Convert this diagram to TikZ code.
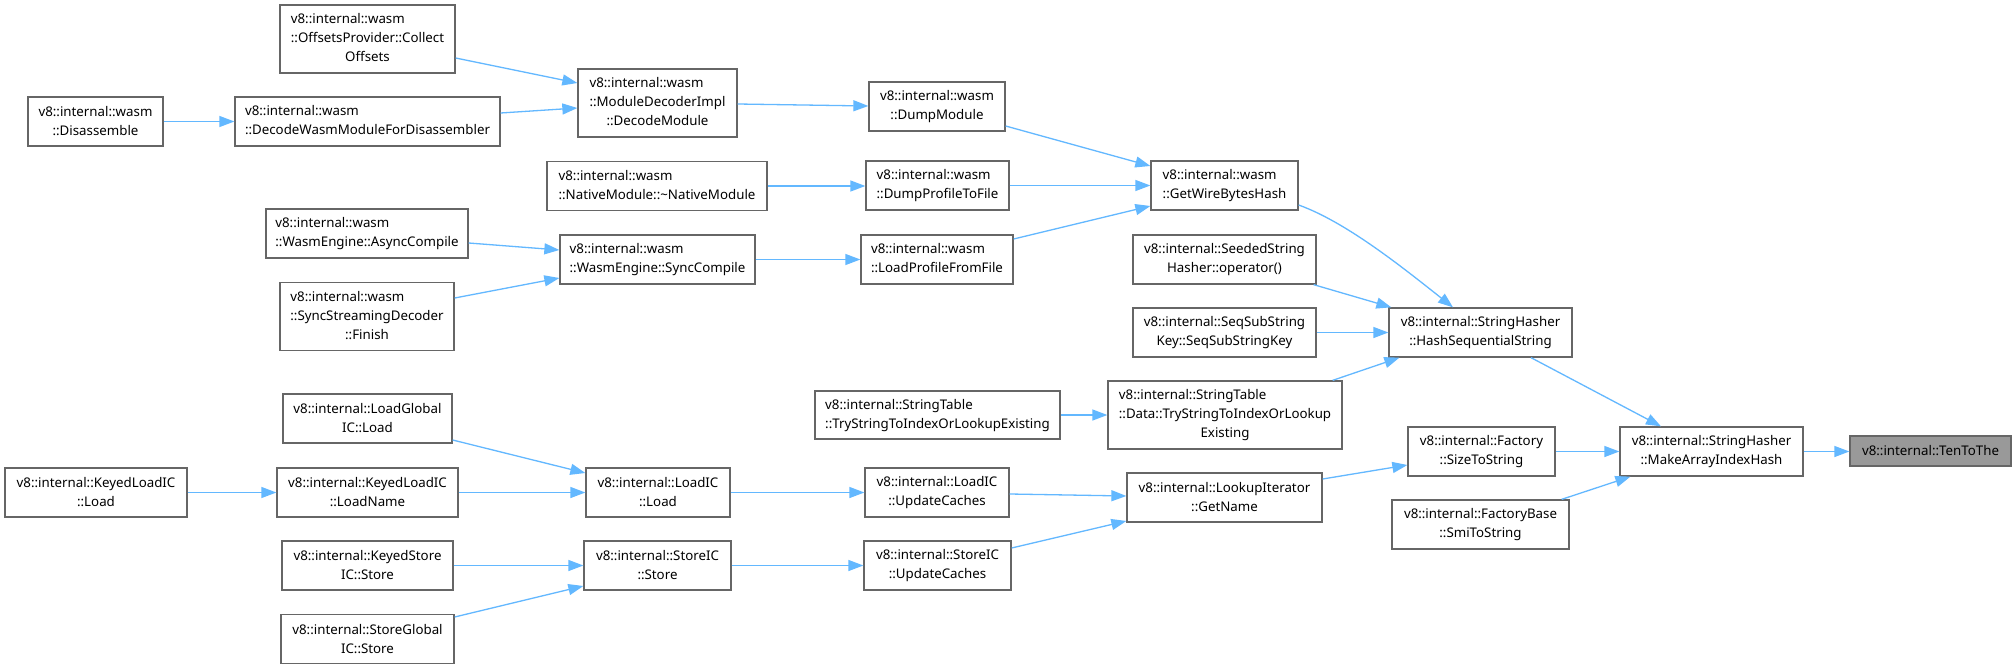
\documentclass[tikz,border=0pt]{standalone}
\usepackage{fontspec}
\setmainfont{Noto Sans}
\usetikzlibrary{arrows.meta,calc}
\definecolor{edgeblue}{HTML}{63B8FF}
\definecolor{boxgray}{HTML}{666666}
\definecolor{hlfill}{HTML}{999999}
\newcommand\lcol[1]{\begin{tabular}{@{}l@{}}#1\end{tabular}}
\newcommand\ccell[1]{\multicolumn{1}{@{}c@{}}{#1}}
\begin{document}
\begin{tikzpicture}[x=1pt,y=-1pt,
 box/.style={draw=boxgray, line width=1.3pt, fill=white, inner sep=0pt, align=center,
   font=\fontsize{13.3}{19}\selectfont},
 hl/.style={box, fill=hlfill},
 wh/.style 2 args={minimum width=#1, minimum height=#2},
 edge/.style={draw=edgeblue, line width=1.3pt, -{Triangle[length=15pt,width=11pt]}}]
\useasboundingbox[fill=white] (0,0) rectangle (2015,669);

% column 1
\node[box, wh={135}{49}] (dis) at (95.5,121.5) {v8::internal::wasm\\::Disassemble};
\node[box, wh={182}{49}] (klic) at (96,492.5) {v8::internal::KeyedLoadIC\\::Load};

% column 2
\node[box, wh={175}{68}] (off) at (367.5,39) {\lcol{v8::internal::wasm\\::OffsetsProvider::Collect\\\ccell{Offsets}}};
\node[box, wh={265}{49}] (dwm) at (367.5,121.5) {\lcol{v8::internal::wasm\\::DecodeWasmModuleForDisassembler}};
\node[box, wh={202}{49}] (ac) at (367,233.5) {\lcol{v8::internal::wasm\\::WasmEngine::AsyncCompile}};
\node[box, wh={174}{68}] (fin) at (367,316.5) {\lcol{v8::internal::wasm\\::SyncStreamingDecoder\\\ccell{::Finish}}};
\node[box, wh={169}{49}] (lgl) at (367.5,418.5) {v8::internal::LoadGlobal\\IC::Load};
\node[box, wh={181}{49}] (kln) at (367.5,492.5) {v8::internal::KeyedLoadIC\\::LoadName};
\node[box, wh={171}{49}] (ksi) at (367.5,565.5) {v8::internal::KeyedStore\\IC::Store};
\node[box, wh={173}{49}] (sgi) at (367.5,639) {v8::internal::StoreGlobal\\IC::Store};

% column 3
\node[box, wh={159}{68}] (dm) at (657.5,103) {\lcol{v8::internal::wasm\\::ModuleDecoderImpl\\\ccell{::DecodeModule}}};
\node[box, wh={220}{49}] (nm) at (657,186) {\lcol{v8::internal::wasm\\::NativeModule::\textasciitilde NativeModule}};
\node[box, wh={195}{49}] (sc) at (657.5,259.5) {\lcol{v8::internal::wasm\\::WasmEngine::SyncCompile}};
\node[box, wh={144}{49}] (lic) at (658,492.5) {v8::internal::LoadIC\\::Load};
\node[box, wh={147}{49}] (sis) at (657.5,565.5) {v8::internal::StoreIC\\::Store};

% column 4
\node[box, wh={136}{49}] (dump) at (937,106.5) {v8::internal::wasm\\::DumpModule};
\node[box, wh={143}{49}] (dpf) at (937.5,185.5) {\lcol{v8::internal::wasm\\::DumpProfileToFile}};
\node[box, wh={152}{49}] (lpf) at (937,259.5) {\lcol{v8::internal::wasm\\::LoadProfileFromFile}};
\node[box, wh={245}{48}] (stt) at (937.5,415) {\lcol{v8::internal::StringTable\\::TryStringToIndexOrLookupExisting}};
\node[box, wh={144}{49}] (licu) at (937,492.5) {v8::internal::LoadIC\\::UpdateCaches};
\node[box, wh={147}{49}] (sicu) at (937.5,565.5) {v8::internal::StoreIC\\::UpdateCaches};

% column 5
\node[box, wh={147}{49}] (gwb) at (1224.5,185.5) {\lcol{v8::internal::wasm\\::GetWireBytesHash}};
\node[box, wh={183}{49}] (ssh) at (1224.5,259.5) {v8::internal::SeededString\\Hasher::operator()};
\node[box, wh={183}{49}] (ssk) at (1224.5,332.5) {v8::internal::SeqSubString\\Key::SeqSubStringKey};
\node[box, wh={234}{68}] (std) at (1225,415) {\lcol{v8::internal::StringTable\\::Data::TryStringToIndexOrLookup\\\ccell{Existing}}};
\node[box, wh={195}{49}] (gn) at (1224.5,497.5) {v8::internal::LookupIterator\\::GetName};

% column 6
\node[box, wh={183}{49}] (hss) at (1480.5,332.5) {v8::internal::StringHasher\\::HashSequentialString};
\node[box, wh={147}{49}] (sts) at (1481.5,451.5) {v8::internal::Factory\\::SizeToString};
\node[box, wh={177}{49}] (smi) at (1480.5,524.5) {v8::internal::FactoryBase\\::SmiToString};

% column 7, 8
\node[box, wh={183}{49}] (maih) at (1711.5,451.5) {v8::internal::StringHasher\\::MakeArrayIndexHash};
\node[hl, wh={161}{30}] (ten) at (1930.5,451) {v8::internal::TenToThe};

% edges
\draw[edge] ($(off.east)+(0,19)$) -- ($(dm.west)+(0,-20)$);
\draw[edge] ($(dwm.east)+(0,-8.5)$) -- ($(dm.west)+(0,5)$);
\draw[edge] (dis.east) -- (dwm.west);
\draw[edge] ($(dm.east)+(0,1)$) -- ($(dump.west)+(0,-0.5)$);
\draw[edge] (nm.east) -- (nm.east -| dpf.west);
\draw[edge] ($(ac.east)+(0,9.5)$) -- ($(sc.west)+(0,-9.5)$);
\draw[edge] ($(fin.east)+(0,-18.5)$) -- ($(sc.west)+(0,18.5)$);
\draw[edge] (sc.east) -- (sc.east -| lpf.west);
\draw[edge] ($(dump.east)+(0,19.5)$) -- ($(gwb.west)+(0,-19.5)$);
\draw[edge] (dpf.east) -- (dpf.east -| gwb.west);
\draw[edge] ($(lpf.east)+(0,-20.5)$) -- ($(gwb.west)+(0,20.5)$);
\draw[edge] ($(gwb.east)+(0,19.5)$) .. controls +(47,17) and +(-53,-42) .. ($(hss.north)+(-27.5,0)$);
\draw[edge] ($(ssh.south east)+(-3,0)$) -- ($(hss.north west)+(3,0)$);
\draw[edge] (ssk.east) -- (ssk.east -| hss.west);
\draw[edge] ($(std.north east)+(-10,0)$) -- ($(hss.south west)+(11,0)$);
\draw[edge] (stt.east) -- (stt.east -| std.west);
\draw[edge] ($(hss.south)+(50.5,0)$) -- ($(maih.north)+(-50.5,0)$);
\draw[edge] (sts.east) -- (sts.east -| maih.west);
\draw[edge] ($(smi.north east)+(-8,0)$) -- ($(maih.south west)+(11,0)$);
\draw[edge] (maih.east) -- (maih.east -| ten.west);
\draw[edge] ($(gn.east)+(0,-18.5)$) -- ($(sts.west)+(0,13.5)$);
\draw[edge] ($(licu.east)+(0,1.5)$) -- ($(gn.west)+(0,-1.5)$);
\draw[edge] ($(sicu.east)+(0,-17.5)$) -- ($(gn.west)+(0,23.5)$);
\draw[edge] (lic.east) -- (lic.east -| licu.west);
\draw[edge] (sis.east) -- (sis.east -| sicu.west);
\draw[edge] ($(lgl.east)+(0,21.5)$) -- ($(lic.west)+(0,-19.5)$);
\draw[edge] (kln.east) -- (kln.east -| lic.west);
\draw[edge] (klic.east) -- (klic.east -| kln.west);
\draw[edge] (ksi.east) -- (ksi.east -| sis.west);
\draw[edge] ($(sgi.east)+(0,-22)$) -- ($(sis.west)+(0,20.5)$);
\end{tikzpicture}
\end{document}
